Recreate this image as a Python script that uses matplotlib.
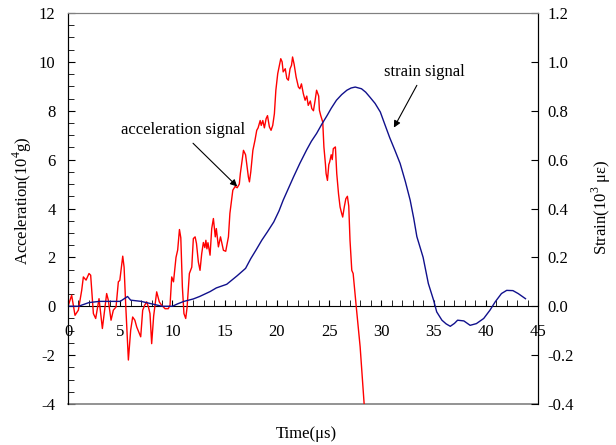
import numpy as np
import matplotlib
matplotlib.use('Agg')
import matplotlib.pyplot as plt
from matplotlib.ticker import MultipleLocator, FormatStrFormatter

plt.rcParams['font.family'] = 'Liberation Serif'
plt.rcParams['mathtext.fontset'] = 'custom'
plt.rcParams['mathtext.rm'] = 'Liberation Serif'
plt.rcParams['axes.unicode_minus'] = False
plt.rcParams['font.size'] = 12

# acceleration signal (10^4 g)
acc_t = [0.0, 0.35, 0.67, 0.99, 1.31, 1.47, 1.73, 2.01, 2.17, 2.43, 2.65, 2.97, 3.29, 3.7, 3.86,
         4.12, 4.34, 4.6, 4.82, 4.96, 5.24, 5.37, 5.52, 5.78, 6.0, 6.19, 6.4, 6.58, 6.7, 6.96,
         7.15, 7.35, 7.53, 7.7, 7.85, 8.01, 8.2, 8.49, 8.74, 8.95, 9.29, 9.6, 9.77, 9.93, 10.1,
         10.34, 10.5, 10.67, 10.8, 10.95, 11.1, 11.27, 11.4, 11.62, 11.85, 12.0, 12.17, 12.3,
         12.48, 12.64, 12.8, 12.96, 13.1, 13.2, 13.3, 13.4, 13.6, 13.76, 13.92, 14.1, 14.2,
         14.4, 14.6, 14.88, 15.1, 15.36, 15.5, 15.78, 16.0, 16.2, 16.4, 16.5, 16.8, 17.0,
         17.27, 17.37, 17.5, 17.7, 17.9, 18.07, 18.2, 18.4, 18.5, 18.65, 18.8, 18.97, 19.1,
         19.28, 19.44, 19.6, 19.76, 19.9, 20.08, 20.24, 20.37, 20.5, 20.6, 20.8, 20.95, 21.1,
         21.26, 21.4, 21.5, 21.65, 21.84, 22.06, 22.2, 22.35, 22.53, 22.7, 22.86, 23.0, 23.2,
         23.34, 23.5, 23.66, 23.8, 24.0, 24.07, 24.2, 24.39, 24.5, 24.65, 24.71, 24.84, 24.97,
         25.05, 25.2, 25.3, 25.4, 25.6, 25.73, 25.9, 26.05, 26.2, 26.3, 26.45, 26.6, 26.75,
         26.88, 27.0, 27.17, 27.3, 27.6, 27.97, 28.35]
acc_v = [0.0, 0.45, -0.37, -0.16, 0.65, 1.2, 1.07, 1.34, 1.27, -0.3, -0.5, 0.31, -0.91, 0.52, 0.25,
         -0.57, -0.16, -0.03, 1.0, 1.06, 2.05, 1.6, 0.1, -2.2, -0.98, -0.44, -0.57, -0.85, -0.98, -1.25,
         -0.16, 0.05, 0.18, -0.03, -0.3, -1.53, -0.4, 0.59, 0.18, 0.05, -0.1, -0.1, 0.05, 1.2, 1.0,
         2.0, 2.3, 3.14, 2.8, 0.79, -0.3, -0.5, -0.05, 1.34, 1.6, 2.77, 2.84, 2.57,
         1.81, 1.47, 2.15, 2.61, 2.4, 2.7, 2.35, 2.6, 2.09, 3.18, 3.59, 2.84, 3.18,
         2.43, 2.84, 2.29, 2.25, 2.84, 3.8, 4.75, 4.9, 4.85, 5.0, 5.43, 6.38, 6.2,
         5.29, 5.09, 5.5, 6.38, 6.79, 7.2, 7.3, 7.6, 7.4, 7.6, 7.3, 7.68, 7.8,
         7.34, 7.2, 7.4, 7.88, 8.84, 9.52, 9.86, 10.13, 10.0, 9.59, 9.72, 9.32, 9.25,
         9.72, 9.86, 10.2, 9.9, 9.38, 8.97, 8.9, 9.1, 8.7, 8.43, 8.6, 8.22, 8.4,
         8.09, 8.0, 8.43, 8.84, 8.6, 8.02, 7.8, 7.54, 6.52, 5.8, 5.43, 5.15, 5.8,
         5.9, 6.2, 6.0, 6.45, 6.52, 5.43, 4.6, 4.06, 3.8, 3.65, 4.06, 4.4, 4.5,
         4.1, 2.7, 1.47, 1.34, -0.03, -1.66, -3.98]

# strain signal (10^3 microstrain)
str_t = [0, 1, 2, 3, 4, 5, 5.7, 6, 7, 8, 9, 10, 10.5, 11.1, 12.0, 12.6, 13.6, 14.2, 15.2, 16.2,
         17.0, 17.5, 18.0, 18.55, 19.1, 19.7, 20.2, 20.6, 21.1, 21.6, 22.2, 22.85, 23.3, 23.8,
         24.3, 24.8, 25.2, 25.7, 26.2, 26.7, 27.1, 27.5, 28.1, 28.5, 28.9, 29.4, 29.9, 30.3,
         30.8, 31.3, 31.8, 32.3, 32.76, 33.1, 33.4, 34.0, 34.5, 35.0, 35.3, 35.8, 36.2, 36.6,
         37.0, 37.3, 37.9, 38.5, 39.1, 39.8, 40.4, 40.9, 41.5, 42.0, 42.6, 43.1, 43.8]
str_v = [0.0, 0.0, 0.015, 0.02, 0.02, 0.02, 0.04, 0.025, 0.02, 0.01, 0.0, 0.0, 0.01, 0.02, 0.03,
         0.04, 0.06, 0.075, 0.09, 0.125, 0.155, 0.195, 0.23, 0.27, 0.305, 0.345, 0.39, 0.434,
         0.482, 0.53, 0.585, 0.64, 0.675, 0.707, 0.745, 0.78, 0.81, 0.843, 0.866, 0.884, 0.893,
         0.897, 0.89, 0.876, 0.856, 0.83, 0.795, 0.748, 0.69, 0.638, 0.584, 0.51, 0.434, 0.36,
         0.285, 0.2, 0.093, 0.025, -0.023, -0.057, -0.072, -0.082, -0.07, -0.057, -0.06, -0.078,
         -0.071, -0.05, -0.016, 0.018, 0.052, 0.065, 0.064, 0.052, 0.031]

fig = plt.figure(figsize=(6.16, 4.45), dpi=100)
ax = fig.add_axes([0.1104, 0.0921, 0.763, 0.8787])
ax2 = ax.twinx()

ax.plot(acc_t, acc_v, color='red', lw=1.0, zorder=3)
ax2.plot(str_t, str_v, color='#10108c', lw=1.0)

ax.set_xlim(0, 45)
ax.set_ylim(-4, 12)
ax2.set_ylim(-0.4, 1.2)

# axe x sur la ligne y=0
ax.spines['bottom'].set_position(('data', 0))
ax.spines['top'].set_color('gray')
ax2.spines['top'].set_color('gray')
ax2.spines['bottom'].set_visible(False)
ax.plot([0, 1], [0, 0], transform=ax.transAxes, color='gray', lw=1.2, clip_on=False)

ax.xaxis.set_major_locator(MultipleLocator(5))
ax.xaxis.set_minor_locator(MultipleLocator(1))
ax.tick_params(axis='x', which='both', direction='in', length=4, pad=13, labelsize=12)
ax.yaxis.set_major_locator(MultipleLocator(2))
ax.yaxis.set_minor_locator(MultipleLocator(0.5))
ax.tick_params(axis='y', which='major', direction='in', length=5, pad=9, labelsize=12)
ax.tick_params(axis='y', which='minor', direction='in', length=4)
ax2.yaxis.set_major_locator(MultipleLocator(0.2))
ax2.yaxis.set_major_formatter(FormatStrFormatter('%.1f'))
ax2.tick_params(axis='y', direction='in', length=5, pad=7, labelsize=12)

ax.set_ylabel(r'Acceleration(10$^4$g)', fontsize=12)
ax.yaxis.set_label_coords(-0.073, 0.52)
ax2.set_ylabel(r'Strain(10$^3$ με)', fontsize=12, rotation=90)
ax2.yaxis.set_label_coords(1.109, 0.504)
ax.set_xlabel('Time(μs)', fontsize=12)
ax.xaxis.set_label_coords(0.508, -0.056)

# annotations
ax.text(11.0, 7.2, 'acceleration signal', ha='center', va='center', fontsize=12)
ax.annotate('', xy=(16.2, 4.9), xytext=(11.97, 6.67),
            arrowprops=dict(arrowstyle='-|>', color='black', lw=0.8, mutation_scale=10,
                            shrinkA=0, shrinkB=0))
ax.text(34.1, 9.57, 'strain signal', ha='center', va='center', fontsize=12)
ax.annotate('', xy=(31.2, 7.31), xytext=(33.4, 9.04),
            arrowprops=dict(arrowstyle='-|>', color='black', lw=0.8, mutation_scale=10,
                            shrinkA=0, shrinkB=0))

plt.savefig('out.png', dpi=100)
